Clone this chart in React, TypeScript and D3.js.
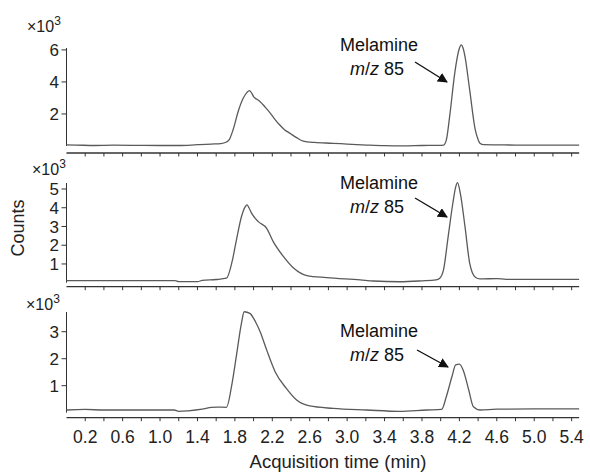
import React from "react";
import * as d3 from "d3";

// retention times (min) and counts (x10^3)
const time1 = [0.0, 0.1, 0.3, 0.5, 0.7, 1.0, 1.2, 1.4, 1.55, 1.65, 1.71, 1.74, 1.78, 1.84, 1.89, 1.93, 1.955, 1.98, 2.0, 2.04, 2.07, 2.12, 2.18, 2.23, 2.28, 2.33, 2.39, 2.46, 2.53, 2.65, 2.85, 3.0, 3.21, 3.4, 3.6, 3.8, 3.98, 4.03, 4.06, 4.1, 4.15, 4.2, 4.22, 4.24, 4.26, 4.31, 4.37, 4.4, 4.42, 4.46, 4.6, 4.8, 5.0, 5.2, 5.48];
const counts1 = [0.07, 0.06, 0.03, 0.05, 0.04, 0.03, 0.03, 0.08, 0.12, 0.15, 0.25, 0.4, 1.0, 2.25, 3.0, 3.35, 3.46, 3.3, 3.08, 2.9, 2.77, 2.45, 2.04, 1.65, 1.31, 1.02, 0.79, 0.52, 0.31, 0.22, 0.17, 0.12, 0.06, 0.02, 0.01, 0.03, 0.04, 0.06, 0.37, 2.04, 4.54, 6.1, 6.31, 6.1, 5.58, 3.5, 1.0, 0.4, 0.17, 0.08, 0.07, 0.06, 0.06, 0.05, 0.05];

const time2 = [0.0, 0.4, 0.8, 1.16, 1.2, 1.4, 1.45, 1.6, 1.71, 1.77, 1.82, 1.87, 1.91, 1.93, 1.95, 1.98, 2.05, 2.14, 2.21, 2.32, 2.43, 2.57, 2.78, 3.14, 3.28, 3.56, 3.8, 3.95, 3.99, 4.03, 4.08, 4.13, 4.16, 4.18, 4.21, 4.26, 4.31, 4.37, 4.42, 4.6, 4.7, 5.0, 5.48];
const counts2 = [0.11, 0.11, 0.11, 0.11, 0.06, 0.06, 0.12, 0.17, 0.24, 1.12, 2.37, 3.52, 4.05, 4.15, 4.0, 3.7, 3.26, 2.9, 2.19, 1.39, 0.77, 0.38, 0.27, 0.15, 0.09, 0.05, 0.1, 0.15, 0.24, 0.68, 2.46, 4.24, 5.1, 5.34, 4.77, 2.99, 1.04, 0.29, 0.2, 0.22, 0.18, 0.18, 0.18];

const time3 = [0.0, 0.2, 0.4, 0.8, 1.0, 1.15, 1.2, 1.3, 1.45, 1.55, 1.61, 1.71, 1.77, 1.82, 1.87, 1.9, 1.96, 2.02, 2.07, 2.14, 2.23, 2.35, 2.46, 2.6, 2.85, 3.21, 3.56, 3.85, 4.01, 4.06, 4.12, 4.16, 4.2, 4.24, 4.3, 4.35, 4.42, 4.6, 5.0, 5.48];
const counts3 = [0.1, 0.12, 0.1, 0.1, 0.1, 0.1, 0.05, 0.07, 0.13, 0.2, 0.21, 0.2, 1.09, 2.2, 3.31, 3.74, 3.68, 3.37, 3.0, 2.32, 1.52, 0.9, 0.47, 0.25, 0.16, 0.1, 0.05, 0.1, 0.12, 0.59, 1.33, 1.77, 1.8, 1.58, 0.84, 0.22, 0.1, 0.13, 0.14, 0.14];

const yTicks1 = [2, 4, 6];
const yTicks2 = [1, 2, 3, 4, 5];
const yTicks3 = [1, 2, 3];
const yMax = [6.12, 5.32, 3.73];

const xTicks = d3.range(1, 28).map((i) => +(i * 0.2).toFixed(1));
const xLabels = d3.range(0, 14).map((i) => +(0.2 + i * 0.4).toFixed(1));

const W = 590;
const H = 472;
const font = "'Liberation Sans', Arial, sans-serif";
const lineColor = "#5a5a5a";
const axisColor = "#333";

// pixel layout of the three stacked panels
const panels = [
  { time: time1, counts: counts1, ticks: yTicks1, max: yMax[0], zero: 146, top: 48, axisY: 153, expX: 27, expY: 32, annY: 51, arrow: [415, 62, 447, 82] },
  { time: time2, counts: counts2, ticks: yTicks2, max: yMax[1], zero: 282.7, top: 183, axisY: 286.7, expX: 32, expY: 175, annY: 189, arrow: [415, 198, 447, 217] },
  { time: time3, counts: counts3, ticks: yTicks3, max: yMax[2], zero: 412.7, top: 312, axisY: 417.7, expX: 26, expY: 310, annY: 337, arrow: [417, 350, 448, 367] },
];

const x = d3.scaleLinear().domain([0, 5.5]).range([66.5, 581]);

const App = () => {
  return (
    <div style={{ position: "absolute", left: 0, top: 0 }}>
      <svg width={W} height={H} style={{ display: "block", background: "#fff" }}>
        <defs>
          <marker id="ah" viewBox="0 0 10 10" refX="9" refY="5" markerWidth="10" markerHeight="10" orient="auto" markerUnits="userSpaceOnUse">
            <path d="M0,0 L10,5 L0,10 z" fill="#111" />
          </marker>
        </defs>
        {panels.map((p, pi) => {
          const y = d3.scaleLinear().domain([0, p.max]).range([p.zero, p.top]);
          const line = d3
            .line<number>()
            .x((d, i) => x(p.time[i]))
            .y((d) => y(d))
            .curve(d3.curveMonotoneX);
          const [ax1, ay1, ax2, ay2] = p.arrow;
          return (
            <g key={pi}>
              {/* y axis */}
              <line x1={x(0)} x2={x(0)} y1={y(p.max)} y2={y(0)} stroke={axisColor} strokeWidth={1} />
              {p.ticks.map((t) => (
                <g key={t}>
                  <line x1={x(0) - 5} x2={x(0)} y1={y(t)} y2={y(t)} stroke={axisColor} />
                  <text x={59} y={y(t)} dy="0.36em" textAnchor="end" fontFamily={font} fontSize={17} fill="#222">
                    {t}
                  </text>
                </g>
              ))}
              <text x={p.expX} y={p.expY} fontFamily={font} fontSize={16} fill="#222">
                ×10<tspan fontSize={12} dy={-7}>3</tspan>
              </text>
              {/* x axis */}
              <line x1={x(0)} x2={x(5.48)} y1={p.axisY} y2={p.axisY} stroke={axisColor} strokeWidth={1.3} />
              {xTicks.map((t) => (
                <line key={t} x1={x(t)} x2={x(t)} y1={p.axisY} y2={p.axisY + 3.5} stroke={axisColor} />
              ))}
              {/* trace */}
              <path d={line(p.counts) || ""} fill="none" stroke={lineColor} strokeWidth={1.3} />
              {/* annotation */}
              <text x={379} y={p.annY} textAnchor="middle" fontFamily={font} fontSize={18} fill="#111">
                Melamine
              </text>
              <text x={377} y={p.annY + 24} textAnchor="middle" fontFamily={font} fontSize={18} fill="#111">
                <tspan fontStyle="italic">m</tspan>/<tspan fontStyle="italic">z</tspan> 85
              </text>
              <line x1={ax1} y1={ay1} x2={ax2} y2={ay2} stroke="#111" strokeWidth={1.4} markerEnd="url(#ah)" />
            </g>
          );
        })}
        {xLabels.map((t) => (
          <text key={t} x={x(t)} y={443} textAnchor="middle" fontFamily={font} fontSize={17.5} fill="#222">
            {t.toFixed(1)}
          </text>
        ))}
        <text x={338} y={468} textAnchor="middle" fontFamily={font} fontSize={18.5} fill="#222">
          Acquisition time (min)
        </text>
        <text transform="translate(24,228) rotate(-90)" textAnchor="middle" fontFamily={font} fontSize={18} fill="#222">
          Counts
        </text>
      </svg>
    </div>
  );
};

export default App;
